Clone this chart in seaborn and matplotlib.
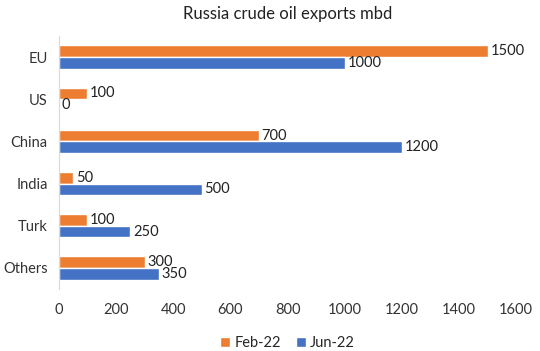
import pandas as pd
import matplotlib
matplotlib.use("Agg")
import matplotlib.pyplot as plt
import seaborn as sns

regions = ["EU", "US", "China", "India", "Turk", "Others"]
feb22 = [1500, 100, 700, 50, 100, 300]
jun22 = [1000, 0, 1200, 500, 250, 350]
periods = ["Feb-22", "Jun-22"]
colors = ["#ED7D31", "#4472C4"]

df = pd.DataFrame({
    "region": regions * 2,
    "value": feb22 + jun22,
    "period": [periods[0]] * len(regions) + [periods[1]] * len(regions),
})

sns.set_style("white")
plt.rcParams["font.family"] = ["Lato", "DejaVu Sans"]

fig = plt.figure(figsize=(5.4, 3.51), dpi=100)
ax = fig.add_axes([0.109, 0.177, 0.847, 0.72])
sns.barplot(data=df, x="value", y="region", hue="period", hue_order=periods,
            palette=colors, orient="h", width=0.56, saturation=1, ax=ax)

for c in ax.containers:
    ax.bar_label(c, padding=2, fontsize=10.5, color="#222222")

ax.set_xlim(0, 1600)
ax.set_xticks(range(0, 1601, 200))
ax.set_xlabel("")
ax.set_ylabel("")
ax.tick_params(axis="both", labelsize=10.5, colors="#333333", length=0)
ax.tick_params(axis="x", pad=10)
ax.tick_params(axis="y", pad=8)
for s in ["top", "right", "bottom"]:
    ax.spines[s].set_visible(False)
ax.spines["left"].set_color("#d9d9d9")

ax.set_title("Russia crude oil exports mbd", fontsize=12, color="#222222", pad=12)
ax.legend(loc="upper center", bbox_to_anchor=(0.5, -0.135), ncol=2, frameon=False,
          fontsize=10.5, handlelength=0.7, handleheight=0.7, columnspacing=1.0,
          handletextpad=0.3)

fig.savefig("out.png", dpi=100)
